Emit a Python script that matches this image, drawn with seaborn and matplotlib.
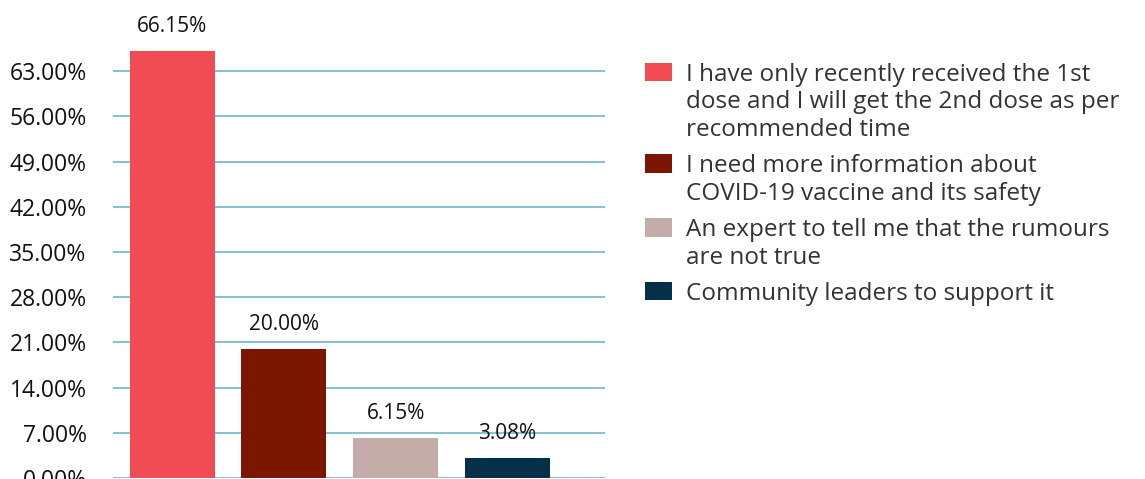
import matplotlib.pyplot as plt
import pandas as pd
import seaborn as sns

categories = [
    "I have only recently received the 1st dose and I will get the 2nd dose as per recommended time",
    "I need more information about COVID-19 vaccine and its safety",
    "An expert to tell me that the rumours are not true",
    "Community leaders to support it",
]
legend_labels = [
    "I have only recently received the 1st\ndose and I will get the 2nd dose as per\nrecommended time",
    "I need more information about\nCOVID-19 vaccine and its safety",
    "An expert to tell me that the rumours\nare not true",
    "Community leaders to support it",
]
values = [66.15, 20.00, 6.15, 3.08]
y_ticks = [0, 7, 14, 21, 28, 35, 42, 49, 56, 63]
colors = ["#F04C54", "#7B1700", "#C4ADA8", "#04304A"]

sns.set_theme(style="white")
plt.rcParams["font.family"] = ["Open Sans", "DejaVu Sans"]

df = pd.DataFrame({"answer": categories, "share": values})

fig = plt.figure(figsize=(11.45, 4.79), dpi=100)
ax = fig.add_axes([113 / 1145, 1 / 479, 492 / 1145, 452 / 479])

sns.barplot(
    data=df, x="answer", y="share", hue="answer", order=categories,
    hue_order=categories, palette=colors, width=0.76, legend=False,
    saturation=1, linewidth=0, ax=ax, zorder=3,
)

ax.set_ylim(0, 70)
ax.set_xlim(-0.53, 3.875)
ax.set_yticks(y_ticks)
ax.set_yticklabels([f"{t:.2f}%" for t in y_ticks], fontsize=16.5, color="#111111")
ax.tick_params(axis="y", length=0, pad=19)
ax.set_xticks([])
ax.set_xlabel("")
ax.set_ylabel("")
ax.yaxis.grid(True, color="#6fb6cc", linewidth=1.2, zorder=0)
ax.set_axisbelow(True)
sns.despine(ax=ax, left=True, bottom=True)

for i, v in enumerate(values):
    ax.text(i, v + 2.2, f"{v:.2f}%", ha="center", va="bottom", fontsize=15,
            color="#111111", clip_on=False)

handles = [p for p in ax.patches][:4]
leg = fig.legend(
    handles, legend_labels, loc="upper left", bbox_to_anchor=(623 / 1145, 1 - 41 / 479),
    frameon=False, fontsize=17.5, handlelength=1.1, handleheight=0.8,
    handletextpad=0.6, labelspacing=0.5, labelcolor="#333333",
)
# align each legend box with the first line of its label
for column in leg._legend_handle_box.get_children():
    for item in column.get_children():
        item.align = "top"

fig.savefig("out.png", dpi=100)
